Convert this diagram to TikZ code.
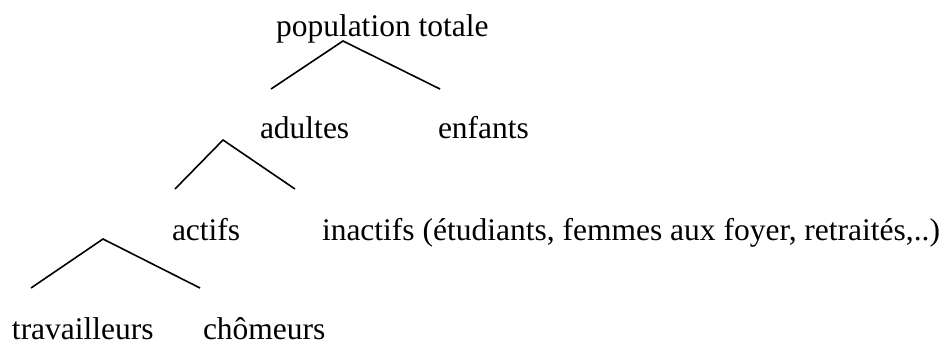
\documentclass[tikz,border=0pt]{standalone}
\usepackage{fontspec}
\setmainfont{Liberation Serif}
\begin{document}
\begin{tikzpicture}[x=1pt,y=-1pt,
  lbl/.style={anchor=base west,inner sep=0pt,outer sep=0pt,font=\fontsize{31.5}{38}\selectfont},
  branch/.style={line width=1.6pt,line join=miter}]
\useasboundingbox (0,0) rectangle (952,343);
% texts
\node[lbl] (pop) at (276,36) {population totale};
\node[lbl] (adu) at (260,138) {adultes};
\node[lbl] (enf) at (438,138) {enfants};
\node[lbl] (act) at (172,240) {actifs};
\node[lbl] (ina) at (322,240) {inactifs (étudiants, femmes aux foyer, retraités,..)};
\node[lbl] (tra) at (12,339) {travailleurs};
\node[lbl] (cho) at (203,339) {chômeurs};
% branch points
\coordinate (a1) at (343,41);
\coordinate (l1) at (271,89);
\coordinate (r1) at (440,89);
\coordinate (a2) at (223,140);
\coordinate (l2) at (175,189);
\coordinate (r2) at (295,189);
\coordinate (a3) at (103,239);
\coordinate (l3) at (31,288);
\coordinate (r3) at (200,288);
\draw[branch] (l1) -- (a1) -- (r1);
\draw[branch] (l2) -- (a2) -- (r2);
\draw[branch] (l3) -- (a3) -- (r3);
\end{tikzpicture}
\end{document}
